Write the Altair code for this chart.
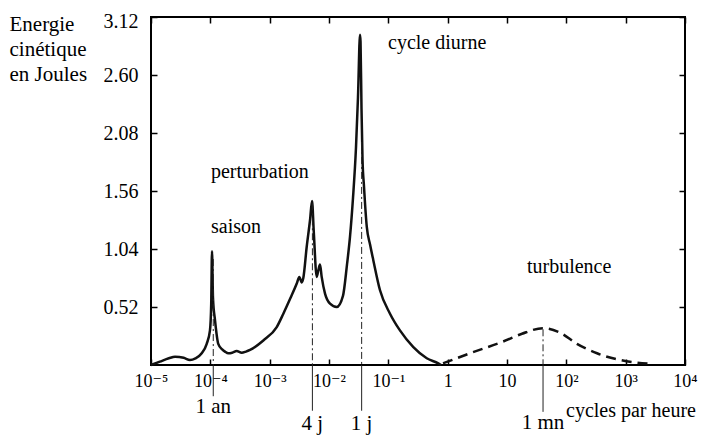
import json
import altair as alt
import pandas as pd

# ---------------- data ----------------
X_SOLID = [1.0e-5, 1.41e-5, 2.0e-5, 2.54e-5, 3.55e-5, 4.54e-5, 5.62e-5, 7.16e-5, 8.69e-5, 9.86e-5,
           1.035e-4, 1.067e-4, 1.109e-4, 1.20e-4, 1.36e-4, 1.585e-4, 1.766e-4, 2.01e-4, 2.34e-4, 2.78e-4,
           3.38e-4, 3.98e-4, 4.67e-4, 7.82e-4, 1.315e-3, 1.70e-3, 2.24e-3, 2.86e-3, 3.16e-3, 3.47e-3,
           3.69e-3, 4.21e-3, 4.79e-3, 5.18e-3, 5.52e-3, 6.21e-3, 6.61e-3, 7.05e-3, 7.53e-3, 8.57e-3,
           1.04e-2, 1.35e-2, 1.72e-2, 2.01e-2, 2.26e-2, 2.54e-2, 2.85e-2, 3.08e-2, 3.33e-2, 3.40e-2,
           3.53e-2, 3.67e-2, 3.89e-2, 4.33e-2, 4.92e-2, 5.58e-2, 7.24e-2, 0.1067, 0.157, 0.264,
           0.444, 0.695, 0.773]
Y_SOLID = [0.0, 0.03, 0.06, 0.075, 0.065, 0.045, 0.06, 0.105, 0.19, 0.31,
           0.55, 1.02, 0.60, 0.40, 0.19, 0.14, 0.12, 0.105, 0.11, 0.125,
           0.11, 0.12, 0.135, 0.22, 0.34, 0.46, 0.60, 0.73, 0.79, 0.74,
           0.78, 1.06, 1.30, 1.47, 1.21, 0.79, 0.85, 0.90, 0.79, 0.64,
           0.55, 0.52, 0.62, 0.90, 1.15, 1.50, 1.95, 2.40, 2.96, 2.90,
           2.30, 1.85, 1.60, 1.24, 1.08, 0.94, 0.67, 0.46, 0.31, 0.16,
           0.06, 0.015, 0.0]

X_DASH = [0.836, 2.38, 8.57, 17.9, 40.5, 78.3, 151, 329, 804, 2890]
Y_DASH = [0.015, 0.105, 0.21, 0.28, 0.33, 0.29, 0.19, 0.105, 0.045, 0.01]

REF_NAMES = ["1 an", "4 j", "1 j", "1 mn"]
REF_X = [1.12e-4, 5.25e-3, 3.55e-2, 40.5]
REF_TOP = [0.95, 1.45, 2.0, 0.32]
REF_BOTTOM = [-0.28, -0.41, -0.41, -0.42]
REF_LABEL_Y = [-0.43, -0.585, -0.585, -0.57]

ANN_TEXT = ["cycle diurne", "perturbation", "saison", "turbulence", "cycles par heure"]
ANN_X = [0.0989, 1.026e-4, 1.026e-4, 21.7, 98.8]
ANN_Y = [2.834, 1.677, 1.184, 0.825, -0.466]

X_TICKS = [1e-5, 1e-4, 1e-3, 1e-2, 1e-1, 1, 10, 100, 1000, 10000]
X_TICK_LABELS = ["10⁻⁵", "10⁻⁴", "10⁻³", "10⁻²", "10⁻¹", "1", "10", "10²", "10³", "10⁴"]
Y_TICKS = [0.52, 1.04, 1.56, 2.08, 2.60, 3.12]
Y_TITLE = ["Energie", "cinétique", "en Joules"]

assert len(X_SOLID) == len(Y_SOLID)

# ---------------- layout ----------------
W, H = 534, 348
FONT = "Liberation Serif, Times New Roman, Times, DejaVu Serif, serif"

df_solid = pd.DataFrame({"x": X_SOLID, "y": Y_SOLID})
df_dash = pd.DataFrame({"x": X_DASH, "y": Y_DASH})
df_ref = pd.DataFrame({"x": REF_X, "top": REF_TOP, "bottom": REF_BOTTOM,
                       "ly": REF_LABEL_Y, "name": REF_NAMES})
df_ann = pd.DataFrame({"x": ANN_X, "y": ANN_Y, "t": ANN_TEXT})

XS = alt.Scale(type="log", domain=[1e-5, 1e4], nice=False)
YS = alt.Scale(domain=[0, 3.12], nice=False, zero=False)

label_expr = json.dumps(X_TICK_LABELS, ensure_ascii=False) + "[round(log(datum.value)/LN10)+5]"

ax_x_main = alt.Axis(orient="bottom", values=X_TICKS, labelExpr=label_expr, ticks=False, tickSize=0,
                     domain=False, grid=False, title=None, labelFont=FONT, labelFontSize=18,
                     labelPadding=7, labelColor="black", labelFlush=False, labelOverlap=False)
ax_y_main = alt.Axis(orient="left", values=Y_TICKS, format=".2f", ticks=False, tickSize=0,
                     domain=False, grid=False, title=Y_TITLE, titleAngle=0, titleAlign="left",
                     titleBaseline="top", titleX=-142, titleY=-4, titleFont=FONT, titleFontSize=21,
                     titleFontWeight="normal", titleLineHeight=25, titleColor="black",
                     labelFont=FONT, labelFontSize=20, labelPadding=13, labelColor="black",
                     labelFlush=True, labelFlushOffset=6, labelOverlap=False)


def tick_axis(orient, values):
    return alt.Axis(orient=orient, offset=-(H if orient in ("top", "bottom") else W), values=values,
                    labels=False, domain=False, grid=False, ticks=True, tickSize=6, tickWidth=1.5,
                    tickColor="black", title=None)


solid = alt.Chart(df_solid).mark_line(color="#111", strokeWidth=2.5, interpolate="monotone").encode(
    x=alt.X("x:Q", scale=XS, axis=ax_x_main),
    y=alt.Y("y:Q", scale=YS, axis=ax_y_main),
)

dashed = alt.Chart(df_dash).mark_line(color="#111", strokeWidth=2.5, strokeDash=[10, 6],
                                      interpolate="monotone").encode(
    x=alt.X("x:Q", scale=XS, axis=tick_axis("top", X_TICKS)),
    y=alt.Y("y:Q", scale=YS, axis=tick_axis("right", Y_TICKS)),
)

refs_in = alt.Chart(df_ref).mark_rule(color="#222", strokeWidth=1, strokeDash=[7, 3, 2, 3]).encode(
    x=alt.X("x:Q", scale=XS, axis=tick_axis("bottom", X_TICKS)),
    y=alt.Y("top:Q", scale=YS, axis=tick_axis("left", Y_TICKS)),
    y2=alt.Y2(datum=0),
)

refs_out = alt.Chart(df_ref).mark_rule(color="#222", strokeWidth=1).encode(
    x=alt.X("x:Q", scale=XS, axis=None),
    y=alt.Y("bottom:Q", scale=YS, axis=None),
    y2=alt.Y2(datum=0),
)

ref_labels = alt.Chart(df_ref).mark_text(font=FONT, fontSize=21, color="black", align="center",
                                         baseline="alphabetic").encode(
    x=alt.X("x:Q", scale=XS, axis=None),
    y=alt.Y("ly:Q", scale=YS, axis=None),
    text="name:N",
)

ann = alt.Chart(df_ann).mark_text(font=FONT, fontSize=20, color="black", align="left",
                                  baseline="alphabetic").encode(
    x=alt.X("x:Q", scale=XS, axis=None),
    y=alt.Y("y:Q", scale=YS, axis=None),
    text="t:N",
)

chart = alt.layer(solid, dashed, refs_in, refs_out, ref_labels, ann).resolve_axis(
    x="independent", y="independent"
).properties(
    width=W, height=H,
    padding={"left": 143, "top": 9, "right": 15, "bottom": 71},
    autosize=alt.AutoSizeParams(type="none"),
    background="white",
).configure_view(stroke="black", strokeWidth=2)

chart.save("out.html", embed_options={"renderer": "svg", "actions": False})
